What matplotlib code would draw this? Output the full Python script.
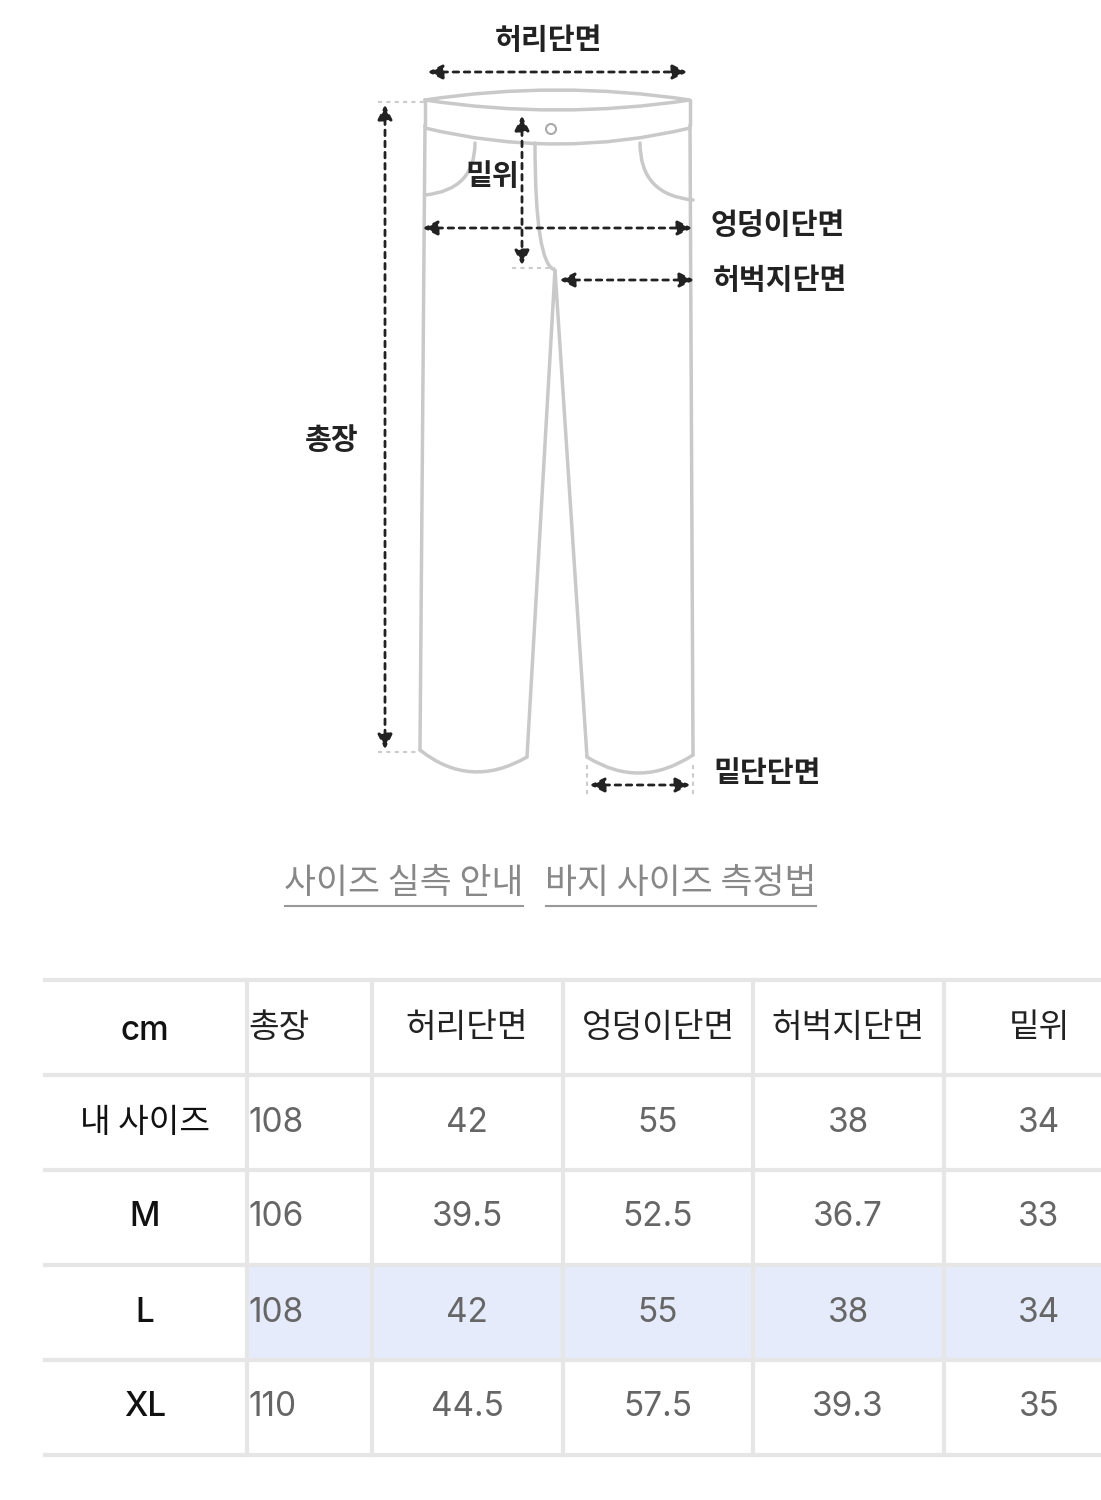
import matplotlib
matplotlib.use("Agg")
import matplotlib.pyplot as plt
from matplotlib.patches import Rectangle, Circle, FancyArrowPatch
from matplotlib.path import Path
from matplotlib.patches import PathPatch

FONT = "Noto Sans CJK KR"
NUMFONT = "Inter"
columns = ["cm", "총장", "허리단면", "엉덩이단면", "허벅지단면", "밑위"]
rows = ["내 사이즈", "M", "L", "XL"]
values = [
    ["108", "42", "55", "38", "34"],
    ["106", "39.5", "52.5", "36.7", "33"],
    ["108", "42", "55", "38", "34"],
    ["110", "44.5", "57.5", "39.3", "35"],
]
highlight_row = "L"

fig = plt.figure(figsize=(11.01, 15), dpi=100)
ax = fig.add_axes([0, 0, 1, 1])
ax.set_xlim(0, 1101); ax.set_ylim(1500, 0); ax.axis("off")

oc = "#c9c9c9"; lw = 2.5
def curve(pts, codes=None):
    if codes is None:
        codes = [Path.MOVETO] + [Path.LINETO] * (len(pts) - 1)
    ax.add_patch(PathPatch(Path(pts, codes), fill=False, ec=oc, lw=lw, capstyle="round"))
C3 = Path.CURVE3
curve([(425, 100), (557, 80), (690, 100), (557, 120), (425, 100)],
      [Path.MOVETO, C3, C3, C3, C3])
curve([(425, 100), (425, 125)]); curve([(690, 100), (690, 125)])
curve([(425, 128), (557, 160), (690, 128)], [Path.MOVETO, C3, C3])
curve([(425, 125), (420, 750)])
curve([(690, 125), (693, 755)])
curve([(420, 750), (470, 790), (527, 757)], [Path.MOVETO, C3, C3])
curve([(587, 757), (640, 790), (693, 755)], [Path.MOVETO, C3, C3])
curve([(527, 757), (555, 270), (587, 757)])
curve([(425, 195), (475, 190), (475, 143)], [Path.MOVETO, C3, C3])
curve([(640, 143), (640, 195), (693, 200)], [Path.MOVETO, C3, C3])
curve([(535, 143), (535, 265), (555, 270)], [Path.MOVETO, C3, C3])
ax.add_patch(Circle((551, 129), 5, fill=False, ec="#aaaaaa", lw=1.5))

ac = "#222222"
def arrow(p1, p2):
    ax.add_patch(FancyArrowPatch(p1, p2, arrowstyle="<|-|>", mutation_scale=22,
                                 color=ac, lw=2, linestyle=(0, (2, 2))))
arrow((425, 72), (690, 72))
arrow((385, 102), (385, 752))
arrow((522, 113), (522, 268))
arrow((420, 228), (695, 228))
arrow((557, 280), (697, 280))
arrow((587, 785), (693, 785))
gl = "#cccccc"
for seg in [((378, 102), (425, 102)), ((378, 752), (420, 752)), ((512, 268), (555, 268)),
            ((587, 765), (587, 795)), ((693, 765), (693, 795))]:
    ax.plot(*zip(*seg), color=gl, lw=1.5, ls=(0, (2, 2)))

lab = dict(fontfamily=FONT, fontweight="bold", fontsize=21, color="#222", va="center")
ax.text(548, 40, "허리단면", ha="center", **lab)
ax.text(492, 176, "밑위", ha="center", **lab)
ax.text(332, 440, "총장", ha="center", **lab)
ax.text(710, 225, "엉덩이단면", ha="left", **lab)
ax.text(713, 280, "허벅지단면", ha="left", **lab)
ax.text(713, 773, "밑단단면", ha="left", **lab)

lk = dict(fontfamily=FONT, fontsize=25, color="#888888", va="center")
ax.text(404, 884, "사이즈 실측 안내", ha="center", **lk)
ax.text(681, 884, "바지 사이즈 측정법", ha="center", **lk)
ax.plot([285, 523], [906, 906], color="#999", lw=1.5)
ax.plot([546, 816], [906, 906], color="#999", lw=1.5)

ys = [980, 1075, 1170, 1265, 1360, 1455]
xs = [247, 372, 563, 753, 944, 1101]
lc = "#e6e6e6"
ri = rows.index(highlight_row)
ax.add_patch(Rectangle((247, ys[ri + 1]), 1101 - 247, ys[ri + 2] - ys[ri + 1],
                       color="#e5ebfa", lw=0))
for y in ys:
    ax.plot([45, 1101], [y, y], color=lc, lw=3)
for x in xs[:-1]:
    ax.plot([x, x], [ys[0], ys[-1]], color=lc, lw=3)
centers = [145, None, 467, 658, 848, 1039]
yc = [(ys[i] + ys[i + 1]) / 2 for i in range(5)]
tf = dict(fontfamily=FONT, fontsize=24, va="center")
nf = dict(fontfamily=NUMFONT, fontsize=24, va="center")
for j, c in enumerate(columns):
    if j == 0:
        ax.text(145, yc[0] + 3, c, ha="center", color="#111", fontfamily=NUMFONT,
                fontsize=24, fontweight="medium", va="center")
    elif j == 1:
        ax.text(248, yc[0], c, ha="left", color="#222", **tf)
    else:
        ax.text(centers[j], yc[0], c, ha="center", color="#222", **tf)
for i, r in enumerate(rows):
    f = tf if i == 0 else dict(fontfamily=NUMFONT, fontsize=24, va="center", fontweight="medium")
    ax.text(145, yc[i + 1], r, ha="center", color="#111", **f)
    for j, v in enumerate(values[i]):
        if j == 0:
            ax.text(248, yc[i + 1], v, ha="left", color="#666", **nf)
        else:
            ax.text(centers[j + 1], yc[i + 1], v, ha="center", color="#666", **nf)

fig.savefig("out.png", dpi=100, facecolor="white")
